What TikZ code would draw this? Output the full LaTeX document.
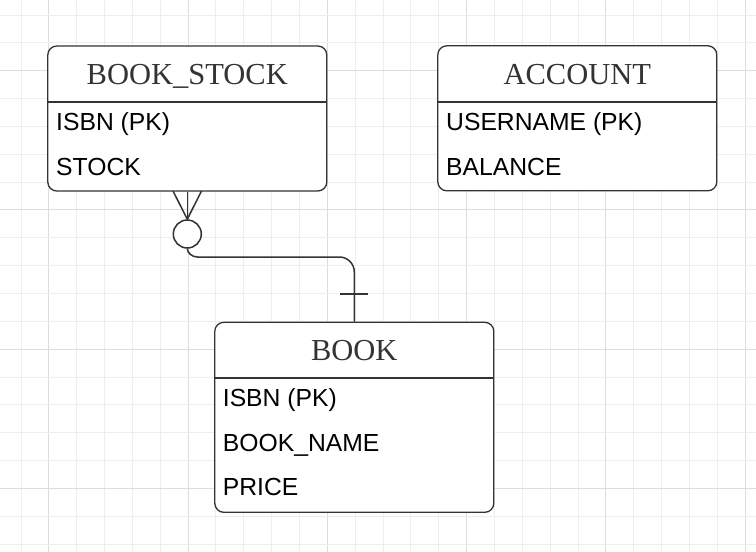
\documentclass[tikz,border=0pt]{standalone}
\usepackage{fontspec}
\setmainfont{Liberation Sans}
\newfontfamily\hdfont{Liberation Serif}
\definecolor{gridminor}{HTML}{EEEEEE}
\definecolor{gridmajor}{HTML}{DDDDDD}
\definecolor{linec}{HTML}{333333}
\definecolor{hdc}{HTML}{333333}
\begin{document}
\begin{tikzpicture}[x=1pt,y=-1pt,
  entity/.style={draw=linec, line width=1.3pt, rounded corners=9pt, fill=white,
    inner sep=0pt, minimum width=279pt},
  hdtext/.style={font=\hdfont\fontsize{30.5}{36}\selectfont, text=hdc, anchor=base, inner sep=0pt},
  rowtext/.style={font=\fontsize{24.7}{29}\selectfont, text=black, anchor=base west, inner sep=0pt},
  sep/.style={draw=linec, line width=1.3pt},
  conn/.style={draw=linec, line width=1.5pt}]
\useasboundingbox (0,0) rectangle (756,552);
\fill[white] (0,0) rectangle (756,552);
% grid
\foreach \k in {0,...,26}{
  \pgfmathsetmacro{\xx}{21+27.85*\k}
  \pgfmathtruncatemacro{\m}{mod(\k,5)}
  \ifnum\m=1
    \draw[gridmajor, line width=1pt] (\xx,0) -- (\xx,552);
  \else
    \draw[gridminor, line width=1pt] (\xx,0) -- (\xx,552);
  \fi
}
\foreach \k in {0,...,19}{
  \pgfmathsetmacro{\yy}{15+27.85*\k}
  \pgfmathtruncatemacro{\m}{mod(\k,5)}
  \ifnum\m=2
    \draw[gridmajor, line width=1pt] (0,\yy) -- (756,\yy);
  \else
    \draw[gridminor, line width=1pt] (0,\yy) -- (756,\yy);
  \fi
}
% entities
\node[entity, minimum height=145pt] (bs) at (187.3,118.5) {};
\node[entity, minimum height=145pt] (acc) at (577.3,118.3) {};
\node[entity, minimum height=190pt] (book) at (354.3,417.3) {};
% header separators
\draw[sep] (bs.west |- 0,102) -- (bs.east |- 0,102);
\draw[sep] (acc.west |- 0,102) -- (acc.east |- 0,102);
\draw[sep] (book.west |- 0,378) -- (book.east |- 0,378);
% headers
\node[hdtext] (bsh) at (bs.north |- 0,84.3) {BOOK\_STOCK};
\node[hdtext] (acch) at (acc.north |- 0,84.3) {ACCOUNT};
\node[hdtext] (bookh) at (book.north |- 0,360.3) {BOOK};
% rows
\node[rowtext] (bs1) at (56,130.3) {ISBN (PK)};
\node[rowtext] (bs2) at (56,175) {STOCK};
\node[rowtext] (acc1) at (446,130.3) {USERNAME (PK)};
\node[rowtext] (acc2) at (446,175) {BALANCE};
\node[rowtext] (b1) at (222.7,406.7) {ISBN (PK)};
\node[rowtext] (b2) at (222.7,451) {BOOK\_NAME};
\node[rowtext] (b3) at (222.7,495) {PRICE};
% relationship
\node[draw=linec, line width=1.5pt, circle, minimum size=28pt, inner sep=0pt, fill=white] (circ) at (187.3,234) {};
\coordinate (f1) at (173,191);
\coordinate (f3) at (201.5,191);
\coordinate (t1) at (340,294);
\coordinate (t2) at (368.3,294);
\draw[conn] (book.north) -- (354.3,272)
  .. controls (354.3,263.7) and (347.6,257) .. (339.3,257) -- (197.3,257)
  .. controls (191.8,257) and (187.3,252.5) .. (circ.south);
\draw[conn] (circ.north) -- (bs.south);
\draw[conn] (circ.north) -- (f1);
\draw[conn] (circ.north) -- (f3);
\draw[conn] (t1) -- (t2);
\end{tikzpicture}
\end{document}
